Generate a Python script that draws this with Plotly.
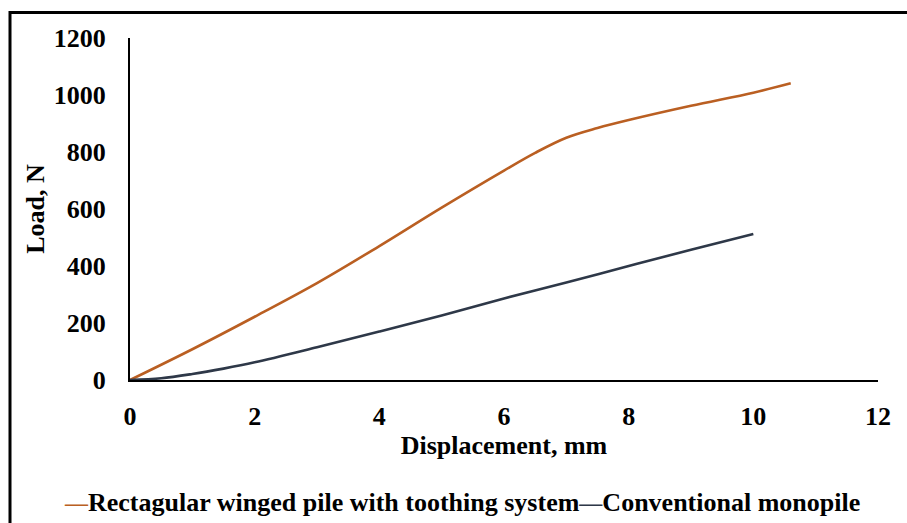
import plotly.graph_objects as go

# Load–displacement readings
winged_disp = [0, 1, 2, 3, 4, 5, 6, 6.5, 7, 7.5, 8, 9, 10, 10.6]
winged_load = [0, 108, 222, 340, 470, 605, 735, 797, 850, 884, 912, 962, 1008, 1041]

mono_disp = [0, 0.5, 1, 1.5, 2, 3, 4, 5, 6, 7, 8, 9, 10]
mono_load = [0, 6, 21, 40, 62, 115, 170, 226, 286, 342, 400, 457, 512]

series_names = ["Rectagular winged pile with toothing system", "Conventional monopile"]
series_colors = ["#BA5F22", "#2E3848"]

x_ticks = [0, 2, 4, 6, 8, 10, 12]
y_ticks = [0, 200, 400, 600, 800, 1000, 1200]

FONT = "Liberation Serif"
BOLD = dict(family=FONT, size=26, weight="bold", color="black")

fig = go.Figure()
for xs, ys, name, color in [
    (winged_disp, winged_load, series_names[0], series_colors[0]),
    (mono_disp, mono_load, series_names[1], series_colors[1]),
]:
    fig.add_trace(go.Scatter(
        x=xs, y=ys, name=name, mode="lines",
        line=dict(color=color, width=2.6, shape="spline", smoothing=1.0),
        showlegend=False,
    ))

fig.update_layout(
    width=907, height=523,
    margin=dict(l=130, r=29, t=38, b=143),
    paper_bgcolor="white", plot_bgcolor="white",
    font=BOLD,
    xaxis=dict(
        range=[0, 12], tickvals=x_ticks, ticktext=[str(v) for v in x_ticks],
        showgrid=False, zeroline=False, showline=True, linecolor="black", linewidth=2,
        ticks="", ticklabelstandoff=12,
        tickfont=BOLD,
        title=dict(text="Displacement, mm", standoff=3, font=BOLD),
    ),
    yaxis=dict(
        range=[0, 1200], tickvals=y_ticks, ticktext=[str(v) for v in y_ticks],
        showgrid=False, zeroline=False, showline=True, linecolor="black", linewidth=2,
        ticks="", ticklabelstandoff=17,
        tickfont=BOLD,
        title=dict(text="Load, N", standoff=2, font=BOLD),
    ),
)

# Legend row drawn as text with coloured dashes
dash = "<span style='color:{c};font-size:23px'>—</span>"
legend_text = (
    dash.format(c=series_colors[0]) + series_names[0]
    + dash.format(c=series_colors[1]) + series_names[1]
)
fig.add_annotation(
    text=legend_text, xref="paper", yref="paper",
    x=(462 - 130) / 748, y=(380 - 502) / 342, xanchor="center", yanchor="middle",
    showarrow=False, font=BOLD,
)

# Outer frame around the figure
fig.add_shape(
    type="rect", xref="paper", yref="paper",
    x0=(10 - 130) / 748, x1=1.2, y0=-0.8, y1=(380 - 12.5) / 342,
    line=dict(color="black", width=3), fillcolor="rgba(0,0,0,0)", layer="above",
)

fig.write_html("out.html")
